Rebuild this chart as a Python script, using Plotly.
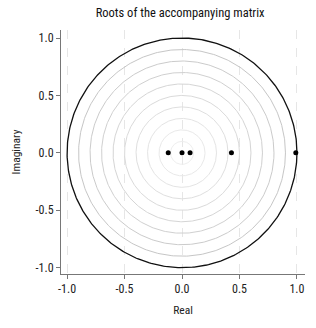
import numpy as np
import plotly.graph_objects as go

# Data
roots_real = [-0.12, 0.0, 0.07, 0.43, 0.99]
roots_imag = [0.0, 0.0, 0.0, 0.0, 0.0]
grid_radii = [0.1, 0.2, 0.3, 0.4, 0.5, 0.6, 0.7, 0.8, 0.9]
grid_colors = ["#eeeeee", "#e9e9e9", "#e4e4e4", "#dfdfdf", "#dadada",
               "#d5d5d5", "#d0d0d0", "#cbcbcb", "#c6c6c6"]
unit_radius = 1.0
x_ticks = [-1.0, -0.5, 0.0, 0.5, 1.0]
y_ticks = [-1.0, -0.5, 0.0, 0.5, 1.0]

FONT = "Liberation Sans Narrow, Roboto Condensed, Roboto, DejaVu Sans Condensed, sans-serif"

theta = np.linspace(0, 2 * np.pi, 400)
fig = go.Figure()
for r, c in zip(grid_radii, grid_colors):
    fig.add_trace(go.Scatter(x=r * np.cos(theta), y=r * np.sin(theta), mode="lines",
                             line=dict(color=c, width=1), hoverinfo="skip", showlegend=False))
fig.add_trace(go.Scatter(x=unit_radius * np.cos(theta), y=unit_radius * np.sin(theta),
                         mode="lines", line=dict(color="#111111", width=1.3),
                         hoverinfo="skip", showlegend=False))
fig.add_trace(go.Scatter(x=roots_real, y=roots_imag, mode="markers",
                         marker=dict(color="black", size=5), showlegend=False))

fig.update_layout(
    width=316, height=328,
    margin=dict(l=61, r=11, t=30, b=54),
    paper_bgcolor="white", plot_bgcolor="white",
    font=dict(family=FONT, size=12, color="#222"),
    title=dict(text="Roots of the accompanying matrix", x=0.57, xanchor="center",
               y=0.962, yanchor="middle", font=dict(size=12.5, family=FONT, color="#111")),
)
fig.update_xaxes(range=[-1.053, 1.07], tickvals=x_ticks, ticktext=[f"{v:.1f}" for v in x_ticks],
                 showgrid=True, gridcolor="#e6e6e6", griddash="dash", gridwidth=1,
                 zeroline=False, showline=True, linecolor="#777", linewidth=1,
                 ticks="outside", ticklen=4, tickcolor="#777",
                 title=dict(text="Real", standoff=10, font=dict(size=11.5)))
fig.update_yaxes(range=[-1.055, 1.07], tickvals=y_ticks, ticktext=[f"{v:.1f}" for v in y_ticks],
                 showgrid=False, zeroline=False, showline=True, linecolor="#777", linewidth=1,
                 ticks="outside", ticklen=4, tickcolor="#777",
                 title=dict(text="Imaginary", standoff=12, font=dict(size=11.5)))

fig.write_html("out.html")
